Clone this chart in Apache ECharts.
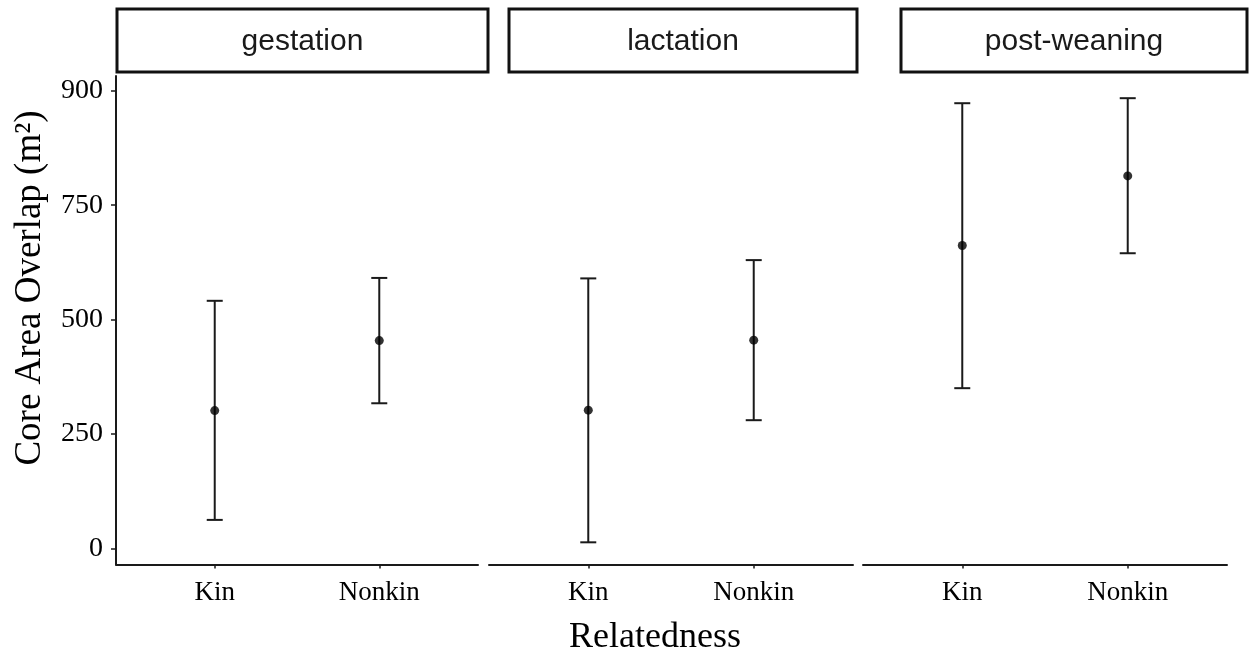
<!DOCTYPE html>
<html>
<head>
<meta charset="utf-8">
<title>Core Area Overlap by Relatedness</title>
<script src="https://cdn.jsdelivr.net/npm/echarts@6/dist/echarts.min.js"></script>
<style>
  html, body { margin: 0; padding: 0; background: #ffffff; }
  #chart { width: 1257px; height: 658px; }
</style>
</head>
<body>
<div id="chart"></div>
<script>
// Relatedness groups (x positions 1 and 2 within each facet)
const categories = ['Kin', 'Nonkin'];
const stages = ['gestation', 'lactation', 'post-weaning'];

// Mean core area overlap (m²) with lower / upper interval bounds, per stage
const gestationMean = [301, 454];
const gestationLow  = [62, 317];
const gestationHigh = [541, 591];

const lactationMean = [302, 455];
const lactationLow  = [13, 280];
const lactationHigh = [590, 630];

const postWeaningMean = [662, 814];
const postWeaningLow  = [350, 645];
const postWeaningHigh = [973, 984];

// Y axis tick positions and the labels printed at them
const yTickValues = [0, 250, 500, 750, 1000];
const yTickLabels = ['0', '250', '500', '750', '900'];

const panels = [
  { mean: gestationMean, low: gestationLow, high: gestationHigh },
  { mean: lactationMean, low: lactationLow, high: lactationHigh },
  { mean: postWeaningMean, low: postWeaningLow, high: postWeaningHigh }
];

const SERIF = "'Liberation Serif', 'Times New Roman', serif";
const SANS = "'Liberation Sans', Arial, sans-serif";
const INK = '#1a1a1a';

const gridLayout = [
  { left: 116, width: 362 },
  { left: 489, width: 364 },
  { left: 863, width: 364 }
];
const stripBoxes = [
  { x: 117, w: 371 },
  { x: 509, w: 348 },
  { x: 901, w: 346 }
];

const grids = gridLayout.map(g => ({
  left: g.left, width: g.width, top: 76, height: 488.5, containLabel: false
}));

const xAxes = gridLayout.map((g, i) => ({
  type: 'value',
  gridIndex: i,
  min: 0.4,
  max: 2.6,
  axisLine: { show: true, onZero: false, lineStyle: { color: INK, width: 2 } },
  axisTick: {
    show: true, length: 4, lineStyle: { color: INK, width: 1.5 },
    customValues: [1, 2]
  },
  axisLabel: {
    show: true, margin: 15,
    fontFamily: SERIF, fontSize: 27, color: '#000',
    customValues: [1, 2],
    formatter: v => categories[Math.round(v) - 1] || ''
  },
  splitLine: { show: false }
}));

const yAxes = gridLayout.map((g, i) => ({
  type: 'value',
  gridIndex: i,
  min: -35.5,
  max: 1032.5,
  axisLine: { show: i === 0, onZero: false, lineStyle: { color: INK, width: 2 } },
  axisTick: {
    show: i === 0, length: 5, lineStyle: { color: INK, width: 1.5 },
    customValues: yTickValues
  },
  axisLabel: {
    show: i === 0, margin: 13,
    fontFamily: SERIF, fontSize: 28, color: '#000',
    customValues: yTickValues,
    formatter: v => {
      const k = yTickValues.indexOf(v);
      return k >= 0 ? yTickLabels[k] : '';
    }
  },
  splitLine: { show: false }
}));

const series = [];
panels.forEach((p, i) => {
  // Error bars: vertical line with horizontal caps
  series.push({
    type: 'custom',
    xAxisIndex: i,
    yAxisIndex: i,
    data: p.mean.map((m, j) => [j + 1, p.low[j], p.high[j]]),
    encode: { x: 0, y: [1, 2] },
    renderItem: (params, api) => {
      const x = api.value(0);
      const lo = api.coord([x, api.value(1)]);
      const hi = api.coord([x, api.value(2)]);
      const cap = 8;
      const style = { stroke: INK, lineWidth: 2, fill: null };
      return {
        type: 'group',
        children: [
          { type: 'line', shape: { x1: lo[0], y1: lo[1], x2: hi[0], y2: hi[1] }, style },
          { type: 'line', shape: { x1: hi[0] - cap, y1: hi[1], x2: hi[0] + cap, y2: hi[1] }, style },
          { type: 'line', shape: { x1: lo[0] - cap, y1: lo[1], x2: lo[0] + cap, y2: lo[1] }, style }
        ]
      };
    },
    z: 2,
    silent: true
  });
  // Mean points
  series.push({
    type: 'scatter',
    xAxisIndex: i,
    yAxisIndex: i,
    data: p.mean.map((m, j) => [j + 1, m]),
    symbol: 'circle',
    symbolSize: 9,
    itemStyle: { color: '#000' },
    z: 3,
    silent: true
  });
});

// Facet strip headers and shared axis titles
const graphic = [];
stripBoxes.forEach((b, i) => {
  graphic.push({
    type: 'rect',
    shape: { x: b.x, y: 9, width: b.w, height: 63 },
    style: { fill: '#ffffff', stroke: '#111', lineWidth: 3 },
    z: 10
  });
  graphic.push({
    type: 'text',
    x: b.x + b.w / 2,
    y: 42,
    style: {
      text: stages[i],
      fontFamily: SANS, fontSize: 30, fill: '#1a1a1a',
      align: 'center', verticalAlign: 'middle'
    },
    z: 11
  });
});
graphic.push({
  type: 'text',
  x: 30, y: 288,
  rotation: Math.PI / 2,
  style: {
    text: 'Core Area Overlap (m²)',
    fontFamily: SERIF, fontSize: 37, fill: '#000',
    align: 'center', verticalAlign: 'middle'
  }
});
graphic.push({
  type: 'text',
  x: 655, y: 638,
  style: {
    text: 'Relatedness',
    fontFamily: SERIF, fontSize: 36, fill: '#000',
    align: 'center', verticalAlign: 'middle'
  }
});

const chart = echarts.init(document.getElementById('chart'), null, { renderer: 'canvas' });
chart.setOption({
  backgroundColor: '#ffffff',
  animation: false,
  grid: grids,
  xAxis: xAxes,
  yAxis: yAxes,
  series,
  graphic
});
</script>
</body>
</html>
